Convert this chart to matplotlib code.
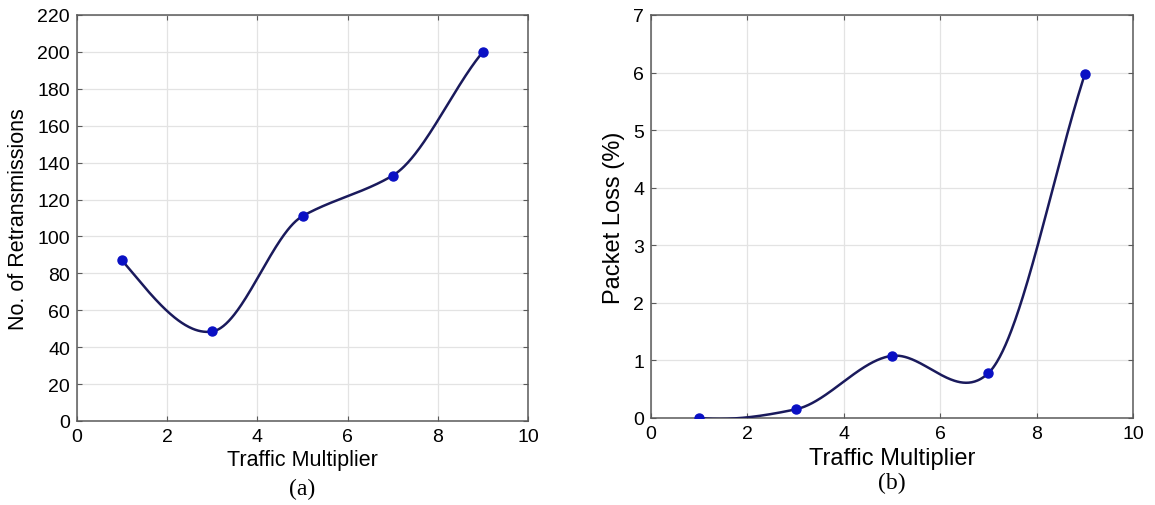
import numpy as np
import matplotlib
matplotlib.use("Agg")
import matplotlib.pyplot as plt

traffic = [1, 3, 5, 7, 9]
retransmissions = [87, 48.5, 111, 133, 200]
packet_loss = [0.0, 0.15, 1.08, 0.78, 5.97]

x_ticks = [0, 2, 4, 6, 8, 10]
y_ticks_a = [0, 20, 40, 60, 80, 100, 120, 140, 160, 180, 200, 220]
y_ticks_b = [0, 1, 2, 3, 4, 5, 6, 7]


def smooth_curve(x, y, xs, k=0.65):
    """Cardinal (tension) Hermite spline through the data points."""
    x = np.asarray(x, float); y = np.asarray(y, float)
    n = len(x)
    m = np.zeros(n)
    for i in range(n):
        if i == 0:
            m[i] = (-3 * y[0] + 4 * y[1] - y[2]) / (x[2] - x[0])
        elif i == n - 1:
            m[i] = (3 * y[-1] - 4 * y[-2] + y[-3]) / (x[-1] - x[-3])
        else:
            m[i] = (y[i + 1] - y[i - 1]) / (x[i + 1] - x[i - 1])
    m *= k
    out = np.empty_like(xs)
    for j, xv in enumerate(xs):
        i = min(max(np.searchsorted(x, xv) - 1, 0), n - 2)
        h = x[i + 1] - x[i]
        t = (xv - x[i]) / h
        h00 = 2 * t**3 - 3 * t**2 + 1
        h10 = t**3 - 2 * t**2 + t
        h01 = -2 * t**3 + 3 * t**2
        h11 = t**3 - t**2
        out[j] = h00 * y[i] + h10 * h * m[i] + h01 * y[i + 1] + h11 * h * m[i + 1]
    return out


plt.rcParams['font.family'] = ['Liberation Sans', 'DejaVu Sans']
fig = plt.figure(figsize=(11.55, 5.06), dpi=100)

line_c = '#1a1a5c'
mark_c = '#0a10c4'
grid_c = '#e3e3e3'
spine_c = '#5a5a5a'

specs = [
    ([77/1155, 1 - 422/506, (528 - 77)/1155, (422 - 16)/506], retransmissions,
     y_ticks_a, 'No. of Retransmissions', '(a)', 15.5, -0.096, -0.167),
    ([651/1155, 1 - 419/506, (1133 - 651)/1155, (419 - 16)/506], packet_loss,
     y_ticks_b, 'Packet Loss (%)', '(b)', 17, -0.099, -0.161),
]

xs = np.linspace(traffic[0], traffic[-1], 400)
for rect, ys, yt, ylabel, cap, fs, xly, capy in specs:
    ax = fig.add_axes(rect)
    ax.plot(xs, smooth_curve(traffic, ys, xs), color=line_c, lw=1.8, zorder=3)
    ax.plot(traffic, ys, 'o', color=mark_c, ms=6.5, zorder=4)
    ax.set_xlim(0, 10)
    ax.set_ylim(yt[0], yt[-1])
    ax.set_xticks(x_ticks)
    ax.set_yticks(yt)
    ax.grid(True, color=grid_c, lw=0.9)
    ax.set_axisbelow(True)
    ax.tick_params(direction='in', top=True, right=True, labelsize=14,
                   length=3.5, color=spine_c, pad=5)
    for s in ax.spines.values():
        s.set_color(spine_c)
        s.set_linewidth(1.1)
    ax.set_xlabel('Traffic Multiplier', fontsize=fs)
    ax.xaxis.set_label_coords(0.5, xly)
    ax.xaxis.label.set_va('center')
    ax.set_ylabel(ylabel, fontsize=fs, labelpad=6)
    ax.text(0.5, capy, cap, transform=ax.transAxes, ha='center', va='center',
            fontsize=17, family=['Liberation Serif', 'DejaVu Serif'])

fig.savefig('out.png', dpi=100)
